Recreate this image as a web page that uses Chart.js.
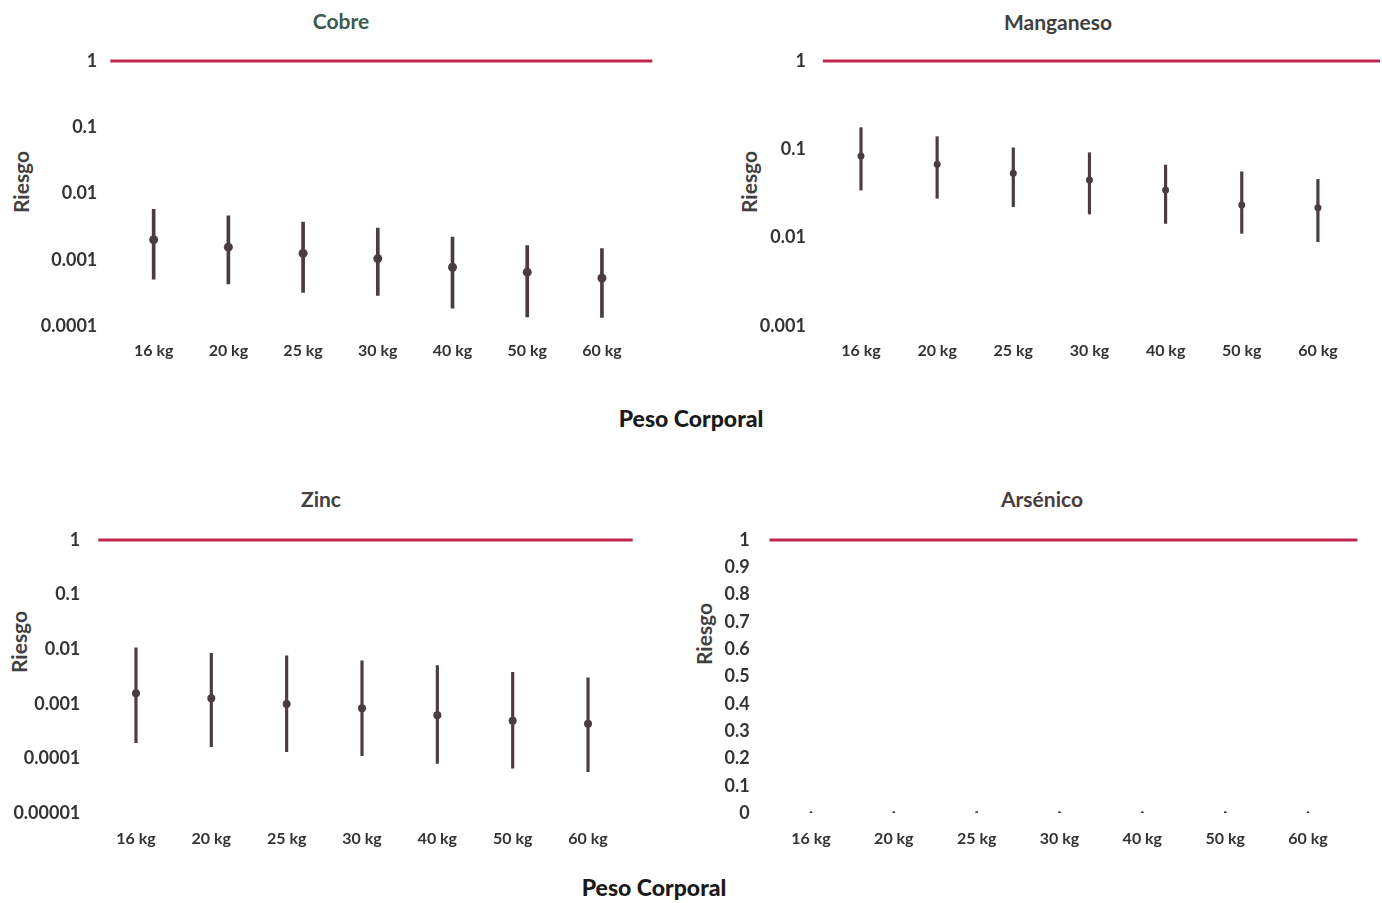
<!DOCTYPE html>
<html>
<head>
<meta charset="utf-8">
<script src="https://cdn.jsdelivr.net/npm/chart.js@4.4.1/dist/chart.umd.min.js"></script>
<style>
  html, body { margin:0; padding:0; background:#fff; }
  body { width:1382px; height:903px; position:relative; overflow:hidden; font-family: Lato, "Open Sans", sans-serif; }
  canvas { position:absolute; }
  .t { position:absolute; transform:translate(-50%,-50%); white-space:nowrap; font-weight:700; }
  .title { font-size:21px; color:#404040; }
  .ylab { font-size:21px; color:#404040; transform:translate(-50%,-50%) rotate(-90deg); }
  .xlab { font-size:23px; color:#1a1a1a; font-weight:900; }
</style>
</head>
<body>
<div class="t title" style="left:341px;top:20px;color:#3d5a50;">Cobre</div>
<div class="t title" style="left:1058px;top:21px;">Manganeso</div>
<div class="t title" style="left:321px;top:498px;">Zinc</div>
<div class="t title" style="left:1042px;top:498px;color:#4a3c3e;">Arsénico</div>
<div class="t ylab" style="left:20px;top:182px;">Riesgo</div>
<div class="t ylab" style="left:748px;top:182px;">Riesgo</div>
<div class="t ylab" style="left:18px;top:642px;">Riesgo</div>
<div class="t ylab" style="left:703px;top:634px;">Riesgo</div>
<div class="t xlab" style="left:691px;top:418px;">Peso Corporal</div>
<div class="t xlab" style="left:654px;top:887px;">Peso Corporal</div>

<canvas id="cCobre"></canvas>
<canvas id="cMn"></canvas>
<canvas id="cZinc"></canvas>
<canvas id="cAs"></canvas>

<script>
// ---------- DATA ----------
const categories = ['16 kg', '20 kg', '25 kg', '30 kg', '40 kg', '50 kg', '60 kg'];

const cobreMean = [0.0020, 0.00155, 0.00125, 0.00104, 0.00077, 0.00065, 0.00053];
const cobreLow  = [0.00051, 0.00043, 0.00032, 0.00029, 0.000186, 0.000137, 0.000135];
const cobreHigh = [0.00575, 0.0046, 0.0037, 0.0030, 0.0022, 0.00163, 0.00148];

const mnMean = [0.084, 0.068, 0.0535, 0.0449, 0.0346, 0.0234, 0.0218];
const mnLow  = [0.0346, 0.0279, 0.0224, 0.0185, 0.0145, 0.0112, 0.0090];
const mnHigh = [0.176, 0.139, 0.104, 0.0915, 0.0664, 0.0557, 0.0457];

const zincMean = [0.00156, 0.00126, 0.00099, 0.00083, 0.00062, 0.00049, 0.00043];
const zincLow  = [0.000194, 0.000164, 0.000133, 0.000112, 0.0000813, 0.000066, 0.000057];
const zincHigh = [0.0106, 0.0084, 0.0076, 0.0061, 0.0050, 0.00378, 0.0030];

const asMean = [0.002, 0.002, 0.002, 0.002, 0.002, 0.002, 0.002];
const asLow  = [0.001, 0.001, 0.001, 0.001, 0.001, 0.001, 0.001];
const asHigh = [0.003, 0.003, 0.003, 0.003, 0.003, 0.003, 0.003];

const cobreTicks = [0.0001, 0.001, 0.01, 0.1, 1];
const mnTicks    = [0.001, 0.01, 0.1, 1];
const zincTicks  = [0.00001, 0.0001, 0.001, 0.01, 0.1, 1];
const asTicks    = [0, 0.1, 0.2, 0.3, 0.4, 0.5, 0.6, 0.7, 0.8, 0.9, 1];

const riskLimit = 1;

// ---------- STYLE ----------
const BAR_COLOR = '#4b3c3f';
const LIMIT_COLOR = '#c1264f';
const FONT = 'Lato, "Open Sans", sans-serif';
const X_TICK_FONT = { family: FONT, size: 16, weight: 'bold' };
const Y_TICK_FONT = { family: FONT, size: 18, weight: 'bold' };
const TICK_COLOR = '#333333';

const limitPlugin = {
  id: 'limitLine',
  afterDatasetsDraw(chart, args, opts) {
    const y = chart.scales.y.getPixelForValue(opts.value);
    const a = chart.chartArea;
    const ctx = chart.ctx;
    ctx.save();
    ctx.strokeStyle = opts.color;
    ctx.lineWidth = opts.width;
    ctx.beginPath();
    ctx.moveTo(a.left - opts.extL, y);
    ctx.lineTo(a.right + opts.extR, y);
    ctx.stroke();
    ctx.restore();
  }
};

function makePanel(id, box, mean, low, high, cfg) {
  const cv = document.getElementById(id);
  cv.width = box.w; cv.height = box.h;
  cv.style.left = box.x + 'px'; cv.style.top = box.y + 'px';
  const yAxisW = box.plotL - box.x;
  const xAxisH = box.y + box.h - box.plotB;

  const yScale = {
    type: cfg.log ? 'logarithmic' : 'linear',
    min: cfg.ticks[0], max: cfg.ticks[cfg.ticks.length - 1],
    afterBuildTicks: s => { s.ticks = cfg.ticks.map(v => ({ value: v })); },
    ticks: {
      callback: cfg.log ? (v => String(v)) : (v => String(Math.round(v * 10) / 10)),
      padding: cfg.yPad, color: TICK_COLOR, font: Y_TICK_FONT
    },
    grid: { display: false, drawTicks: false },
    border: { display: false },
    afterFit: s => { s.width = yAxisW; }
  };

  return new Chart(cv, {
    data: {
      labels: categories,
      datasets: [
        {
          type: 'line', data: mean, showLine: false, order: 0,
          pointRadius: cfg.r, pointBackgroundColor: BAR_COLOR, pointBorderColor: BAR_COLOR, pointBorderWidth: 0
        },
        {
          type: 'bar', order: 1,
          data: low.map((l, i) => [l, high[i]]),
          backgroundColor: BAR_COLOR, borderWidth: 0,
          barThickness: cfg.bw, grouped: false
        }
      ]
    },
    options: {
      responsive: false, animation: false,
      layout: { padding: { left: 0, top: box.plotT - box.y, right: box.x + box.w - box.plotR, bottom: 0 } },
      plugins: {
        legend: { display: false }, tooltip: { enabled: false }, title: { display: false },
        limitLine: { value: riskLimit, color: LIMIT_COLOR, width: 3, extL: cfg.extL, extR: cfg.extR }
      },
      scales: {
        x: {
          type: 'category', offset: true,
          grid: { display: false, drawTicks: false }, border: { display: false },
          ticks: { padding: cfg.xPad, color: TICK_COLOR, font: X_TICK_FONT, maxRotation: 0, autoSkip: false },
          afterFit: s => { s.height = xAxisH; }
        },
        y: yScale
      }
    },
    plugins: [limitPlugin]
  });
}

makePanel('cCobre',
  { x: 0, y: 21, w: 680, h: 350, plotL: 116.3, plotR: 639.3, plotT: 61, plotB: 326 },
  cobreMean, cobreLow, cobreHigh,
  { log: true, ticks: cobreTicks, yPad: 19, xPad: 15, r: 4.5, bw: 3, extL: 6, extR: 13 });

makePanel('cMn',
  { x: 690, y: 21, w: 692, h: 350, plotL: 822.9, plotR: 1356, plotT: 61, plotB: 326 },
  mnMean, mnLow, mnHigh,
  { log: true, ticks: mnTicks, yPad: 17, xPad: 15, r: 3.5, bw: 2.5, extL: 0, extR: 24 });

makePanel('cZinc',
  { x: 0, y: 500, w: 680, h: 358, plotL: 98.3, plotR: 625.7, plotT: 540, plotB: 813 },
  zincMean, zincLow, zincHigh,
  { log: true, ticks: zincTicks, yPad: 18, xPad: 16, r: 4, bw: 2.5, extL: 0, extR: 7 });

makePanel('cAs',
  { x: 690, y: 500, w: 692, h: 358, plotL: 769.6, plotR: 1349.4, plotT: 540, plotB: 813 },
  asMean, asLow, asHigh,
  { log: false, ticks: asTicks, yPad: 20, xPad: 16, r: 1.3, bw: 1.5, extL: 0, extR: 8 });
</script>
</body>
</html>
